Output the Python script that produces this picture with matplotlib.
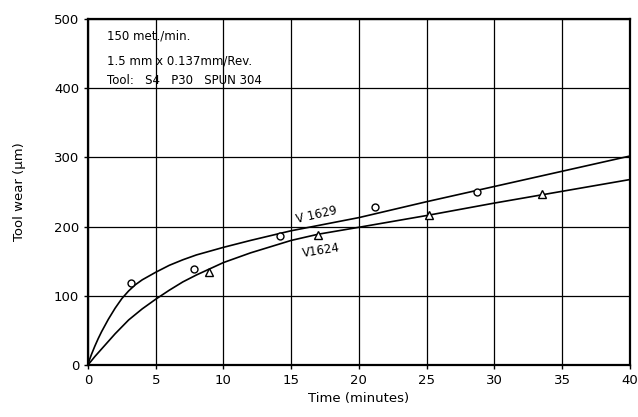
import matplotlib.pyplot as plt

# measured points
t_v1629 = [3.2, 7.8, 14.2, 21.2, 28.7]
w_v1629 = [118, 138, 186, 229, 250]
t_v1624 = [8.9, 17.0, 25.2, 33.5]
w_v1624 = [134, 188, 217, 247]

# fitted curves
curve_t_1629 = [0, 0.1, 0.25, 0.5, 0.75, 1, 1.5, 2, 2.5, 3, 3.5, 4, 5, 6, 7, 8, 10, 12, 15, 20, 25, 30, 35, 40]
curve_w_1629 = [0, 7, 15, 27, 38, 48, 66, 82, 96, 107, 116, 123, 134, 144, 152, 159, 170, 180, 194, 213, 236, 258, 280, 302]
curve_t_1624 = [0, 0.5, 1, 2, 3, 4, 5, 6, 7, 8, 10, 12, 15, 17, 20, 25, 30, 35, 40]
curve_w_1624 = [0, 12, 23, 45, 65, 81, 95, 108, 120, 130, 148, 162, 180, 189, 199, 216, 234, 251, 268]

x_ticks = [0, 5, 10, 15, 20, 25, 30, 35, 40]
y_ticks = [0, 100, 200, 300, 400, 500]

fig = plt.figure(figsize=(6.38, 4.17), dpi=100)
ax = fig.add_axes([0.138, 0.125, 0.849, 0.829])

ax.plot(curve_t_1629, curve_w_1629, color="black", lw=1.2, zorder=3)
ax.plot(curve_t_1624, curve_w_1624, color="black", lw=1.2, zorder=3)
ax.plot(t_v1629, w_v1629, "o", ms=5, mfc="white", mec="black", mew=1, zorder=4)
ax.plot(t_v1624, w_v1624, "^", ms=5.5, mfc="white", mec="black", mew=1, zorder=4)

ax.set_xlim(0, 40)
ax.set_ylim(0, 500)
ax.set_xticks(x_ticks)
ax.set_yticks(y_ticks)
ax.grid(True, color="black", lw=0.9)
for s in ax.spines.values():
    s.set_linewidth(1.6)
ax.tick_params(direction="out", length=3, width=1, labelsize=9.5)

ax.set_xlabel("Time (minutes)", fontsize=9.5)
ax.set_ylabel("Tool wear (\u00b5m)", fontsize=9.5, labelpad=20)

ax.text(1.4, 475, "150 met./min.", fontsize=8.5, va="center")
ax.text(1.4, 439, "1.5 mm x 0.137mm/Rev.", fontsize=8.5, va="center")
ax.text(1.4, 411, "Tool:   S4   P30   SPUN 304", fontsize=8.5, va="center")

ax.text(16.9, 217, "V 1629", fontsize=8.5, rotation=13, ha="center", va="center")
ax.text(17.2, 166, "V1624", fontsize=8.5, rotation=9, ha="center", va="center")

fig.savefig("out.png", dpi=100)
